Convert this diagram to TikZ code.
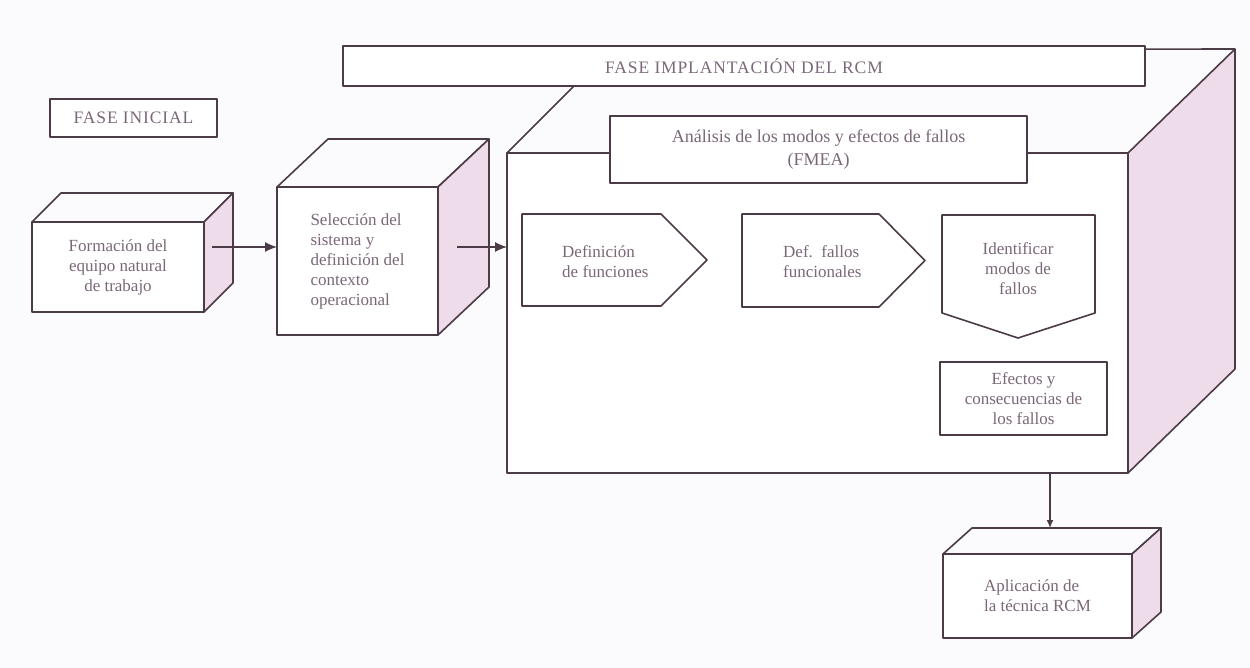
\documentclass[tikz,border=0pt]{standalone}
\usepackage{fontspec}
\setmainfont{Liberation Serif}
\usetikzlibrary{calc,arrows.meta}

\definecolor{ink}{HTML}{4A3B47}
\definecolor{sidepink}{HTML}{EEDCEA}
\definecolor{txt}{HTML}{7A6878}
\definecolor{paper}{HTML}{FBFBFD}

\tikzset{
  edge/.style={draw=ink, line width=1.6pt, line join=round},
  box/.style={edge, fill=white, rectangle, inner sep=0pt, outer sep=0pt,
    text=txt, font=\fontsize{17}{20}\selectfont},
  side/.style={edge, fill=sidepink},
  lbl/.style={text=txt, font=\fontsize{17}{20}\selectfont, inner sep=0pt},
  caps/.style={font=\fontsize{17.5}{20}\selectfont\addfontfeature{LetterSpace=5}},
  arr/.style={draw=ink, line width=1.3pt, -{Latex[length=12pt,width=10pt]}},
  arrsmall/.style={draw=ink, line width=1.3pt, -{Latex[length=8pt,width=7pt]}},
}

% top and right faces of a box whose front face is node #1, depth (#2,#3)
\newcommand\boxfaces[3]{%
  \draw[edge] (#1.north west) -- ++(#2,#3) -- ($(#1.north east)+(#2,#3)$) -- (#1.north east);
  \filldraw[side] (#1.north east) -- ($(#1.north east)+(#2,#3)$)
     -- ($(#1.south east)+(#2,#3)$) -- (#1.south east) -- cycle;
}

\begin{document}
\begin{tikzpicture}[x=1pt,y=-1pt]
  \fill[paper] (0,0) rectangle (1250,668);
  \useasboundingbox (0,0) rectangle (1250,668);

  % initial phase
  \node[box, caps, minimum width=167, minimum height=38] (inicial) at (133.5,118) {FASE INICIAL};

  \node[box, minimum width=172, minimum height=90, align=center] (formacion) at (118,267)
    {Formación del\\equipo natural\\de trabajo};
  \boxfaces{formacion}{29}{-29}

  \node[box, minimum width=161, minimum height=148, align=left] (seleccion) at (357.5,261)
    {Selección del\\sistema y\\definición del\\contexto\\operacional};
  \boxfaces{seleccion}{51}{-48}

  % implementation phase block
  \node[box, minimum width=621, minimum height=320] (fase) at (817.5,313) {};
  \coordinate (backTL) at ($(fase.north west)+(103,-103)$);
  \coordinate (backTR) at ($(fase.north east)+(107,-104)$);
  \draw[edge] (fase.north west) -- (backTL) -- (backTR);
  \filldraw[side] (fase.north east) -- (backTR) -- ($(fase.south east)+(107,-104)$)
     -- (fase.south east) -- cycle;

  \node[box, caps, minimum width=802, minimum height=40] (implantacion) at (744,66)
    {FASE IMPLANTACIÓN DEL RCM};

  \node[box, minimum width=417, minimum height=67, align=center,
        font=\fontsize{18}{23}\selectfont] (fmea) at (818.5,149.5)
    {Análisis de los modos y efectos de fallos\\(FMEA)};

  % FMEA steps
  \draw[edge, fill=white] (522,214) -- (661,214) -- (707,260) -- (661,306) -- (522,306) -- cycle;
  \node[lbl, align=left, anchor=west] (funciones) at (562,262) {Definición\\de funciones};

  \draw[edge, fill=white] (742,214) -- (879,214) -- (925,260.5) -- (879,307) -- (742,307) -- cycle;
  \node[lbl, align=left, anchor=west] (fallosfun) at (783,262) {Def.\ \ fallos\\funcionales};

  \draw[edge, fill=white] (942,215) -- (1095,215) -- (1095,313) -- (1018,338) -- (942,313) -- cycle;
  \node[lbl, align=center] (modos) at (1018,269) {Identificar\\modos de\\fallos};

  \node[box, minimum width=167, minimum height=73, align=center] (efectos) at (1023.5,398.5)
    {Efectos y\\consecuencias de\\los fallos};

  % final step
  \node[box, minimum width=189, minimum height=84, align=left] (aplicacion) at (1037.5,596)
    {Aplicación de\\la técnica RCM};
  \boxfaces{aplicacion}{29}{-26}

  % connectors
  \coordinate (a1) at (212,247);
  \draw[arr] (a1) -- (a1 -| seleccion.west);
  \coordinate (a2) at (457,247);
  \draw[arr] (a2) -- (a2 -| fase.west);
  \coordinate (a3) at (1050,473);
  \coordinate (apTop) at ($(aplicacion.north west)+(29,-26)$);
  \draw[arrsmall] (a3) -- (a3 |- apTop);
\end{tikzpicture}
\end{document}
